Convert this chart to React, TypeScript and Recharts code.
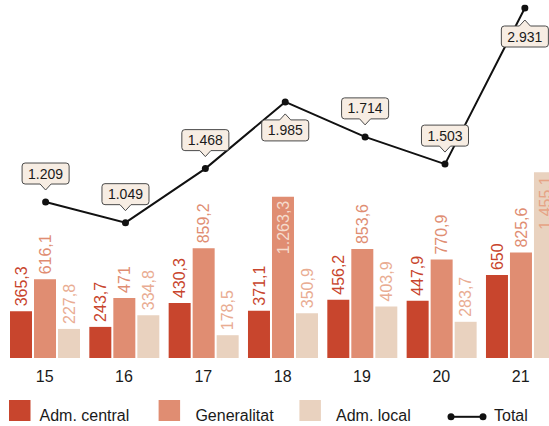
import React from 'react';
import { ComposedChart, Bar, Line, XAxis, YAxis, LabelList } from 'recharts';

const years = ['15', '16', '17', '18', '19', '20', '21'];
const admCentral = [365.3, 243.7, 430.3, 371.1, 456.2, 447.9, 650];
const generalitat = [616.1, 471, 859.2, 1263.3, 853.6, 770.9, 825.6];
const admLocal = [227.8, 334.8, 178.5, 350.9, 403.9, 283.7, 1455.1];
const total = [1209, 1049, 1468, 1985, 1714, 1503, 2931];

const data = years.map((y, i) => ({
  year: y,
  central: admCentral[i],
  generalitat: generalitat[i],
  local: admLocal[i],
  total: total[i],
}));

const FONT = '"Liberation Sans", Arial, Helvetica, sans-serif';
const C_CENTRAL = '#c8452d';
const C_GEN = '#e08d72';
const C_LOCAL = '#e9d2bf';
const TXT = '#1a1a1a';

// label above (false) or below (true) the line point
const labelBelow = [false, false, false, true, false, false, true];

function fmt(v: number): string {
  const abs = Math.abs(v);
  const isInt = Math.abs(abs - Math.round(abs)) < 1e-9;
  let intPart: string;
  let dec = '';
  if (isInt) intPart = String(Math.round(abs));
  else {
    const s = abs.toFixed(1).split('.');
    intPart = s[0];
    dec = s[1];
  }
  intPart = intPart.replace(/\B(?=(\d{3})+(?!\d))/g, '.');
  return (v < 0 ? '-' : '') + intPart + (dec ? ',' + dec : '');
}

function textWidth(s: string, size: number): number {
  let w = 0;
  for (const ch of s) {
    if (ch === '.' || ch === ',') w += 0.278;
    else w += 0.556;
  }
  return w * size;
}

function clampedLinear(d: number[] = [0, 1], r: number[] = [0, 1]): any {
  let dom = d.slice();
  let rng = r.slice();
  const scale: any = (v: any) => {
    const n = Number(v);
    const span = dom[1] - dom[0] || 1;
    const t = Math.max(0, Math.min(1, (n - dom[0]) / span));
    return rng[0] + t * (rng[1] - rng[0]);
  };
  scale.domain = (x?: any) => {
    if (x === undefined) return dom.slice();
    dom = [Number(x[0]), Number(x[x.length - 1])];
    return scale;
  };
  scale.range = (x?: any) => {
    if (x === undefined) return rng.slice();
    rng = [Number(x[0]), Number(x[x.length - 1])];
    return scale;
  };
  scale.copy = () => clampedLinear(dom, rng);
  scale.invert = (y: number) => dom[0] + ((y - rng[0]) / (rng[1] - rng[0] || 1)) * (dom[1] - dom[0]);
  scale.ticks = (count = 5) => {
    const step = (dom[1] - dom[0]) / count;
    return Array.from({ length: count + 1 }, (_, i) => dom[0] + step * i);
  };
  scale.tickFormat = () => (v: any) => String(v);
  scale.nice = () => scale;
  return scale;
}

const lineScale = clampedLinear();

const makeBarLabel = (color: string, insideColor: string) => (props: any) => {
  const { x, y, width, value } = props;
  const v = Number(value);
  const cx = Number(x) + Number(width) / 2;
  const tx = cx + 5.7;
  const inside = v > 1000;
  const ty = inside ? Number(y) + 4 : Number(y) - 5;
  return (
    <text
      transform={`translate(${tx},${ty}) rotate(-90)`}
      textAnchor={inside ? 'end' : 'start'}
      fill={inside ? insideColor : color}
      fontSize={16}
      fontFamily={FONT}
    >
      {fmt(v)}
    </text>
  );
};

const LineLabel = (props: any) => {
  const { x, y, value } = props;
  let index = props.index;
  if (index === undefined) index = total.indexOf(Number(value));
  const label = fmt(Number(value));
  const cx = Number(x);
  const cy = Number(y);
  const W = textWidth(label, 14) + 12;
  const H = 21;
  const r = 3;
  const n = 5.5;
  const h = 6;
  const gap = 18;
  const below = labelBelow[index];
  const L = cx - W / 2;
  const T = below ? cy + gap : cy - gap - H;
  let d: string;
  if (!below) {
    d = `M${L + r},${T} H${L + W - r} Q${L + W},${T} ${L + W},${T + r} V${T + H - r} Q${L + W},${T + H} ${L + W - r},${T + H} H${cx + n} L${cx},${T + H + h} L${cx - n},${T + H} H${L + r} Q${L},${T + H} ${L},${T + H - r} V${T + r} Q${L},${T} ${L + r},${T} Z`;
  } else {
    d = `M${L + r},${T} H${cx - n} L${cx},${T - h} L${cx + n},${T} H${L + W - r} Q${L + W},${T} ${L + W},${T + r} V${T + H - r} Q${L + W},${T + H} ${L + W - r},${T + H} H${L + r} Q${L},${T + H} ${L},${T + H - r} V${T + r} Q${L},${T} ${L + r},${T} Z`;
  }
  return (
    <g>
      <path d={d} fill="#f7ede3" stroke="#4a4a4a" strokeWidth={1} />
      <text x={cx} y={T + H / 2 + 5} textAnchor="middle" fontSize={14} fontFamily={FONT} fill={TXT}>
        {label}
      </text>
    </g>
  );
};

const Legend = () => (
  <svg width={549} height={36} style={{ position: 'absolute', left: 0, top: 390 }}>
    <rect x={9} y={10} width={21.5} height={21} fill={C_CENTRAL} />
    <text x={39.5} y={31} fontSize={16} fontFamily={FONT} fill={TXT}>Adm. central</text>
    <rect x={158.6} y={10} width={21.5} height={21} fill={C_GEN} />
    <text x={195.4} y={31} fontSize={16} fontFamily={FONT} fill={TXT}>Generalitat</text>
    <rect x={299.4} y={10} width={21.5} height={21} fill={C_LOCAL} />
    <text x={336} y={31} fontSize={16} fontFamily={FONT} fill={TXT}>Adm. local</text>
    <line x1={451} y1={26.8} x2={483} y2={26.8} stroke="#111" strokeWidth={2} />
    <circle cx={451} cy={26.8} r={3.5} fill="#111" />
    <circle cx={483} cy={26.8} r={3.5} fill="#111" />
    <text x={494} y={31} fontSize={16} fontFamily={FONT} fill={TXT}>Total</text>
  </svg>
);

export default function App() {
  return (
    <div
      style={{
        position: 'absolute',
        left: 0,
        top: 0,
        width: 549,
        height: 426,
        overflow: 'hidden',
        background: '#fff',
      }}
    >
      <ComposedChart
        width={580}
        height={426}
        data={data}
        margin={{ top: 8, right: 15.2, bottom: 38, left: 5 }}
        barGap={2}
      >
        <XAxis
          xAxisId="bar"
          dataKey="year"
          type="category"
          axisLine={false}
          tickLine={false}
          tickMargin={7}
          height={30}
          padding={{ left: 0, right: 4.5 }}
          interval={0}
          tick={{ fill: TXT, fontSize: 16, fontFamily: FONT }}
        />
        <XAxis xAxisId="line" dataKey="year" type="category" hide padding={{ left: 0.66, right: 0 }} />
        <YAxis yAxisId="bar" type="number" domain={[0, 2742]} hide />
        <YAxis
          yAxisId="line"
          type="number"
          domain={[0, 2713]}
          allowDataOverflow
          scale={lineScale}
          hide
        />
        <Bar xAxisId="bar" yAxisId="bar" dataKey="central" fill={C_CENTRAL} barSize={22} isAnimationActive={false}>
          <LabelList dataKey="central" content={makeBarLabel(C_CENTRAL, '#f5dccd')} />
        </Bar>
        <Bar xAxisId="bar" yAxisId="bar" dataKey="generalitat" fill={C_GEN} barSize={22} isAnimationActive={false}>
          <LabelList dataKey="generalitat" content={makeBarLabel(C_GEN, '#f5dccd')} />
        </Bar>
        <Bar xAxisId="bar" yAxisId="bar" dataKey="local" fill={C_LOCAL} barSize={22} isAnimationActive={false}>
          <LabelList dataKey="local" content={makeBarLabel('#e9ac92', '#e6a386')} />
        </Bar>
        <Line
          xAxisId="line"
          yAxisId="line"
          dataKey="total"
          type="linear"
          stroke="#111"
          strokeWidth={2}
          dot={{ r: 3.5, fill: '#111', stroke: '#111', strokeWidth: 0, clipDot: false } as any}
          activeDot={false}
          isAnimationActive={false}
        >
          <LabelList dataKey="total" content={LineLabel} />
        </Line>
      </ComposedChart>
      <Legend />
    </div>
  );
}
